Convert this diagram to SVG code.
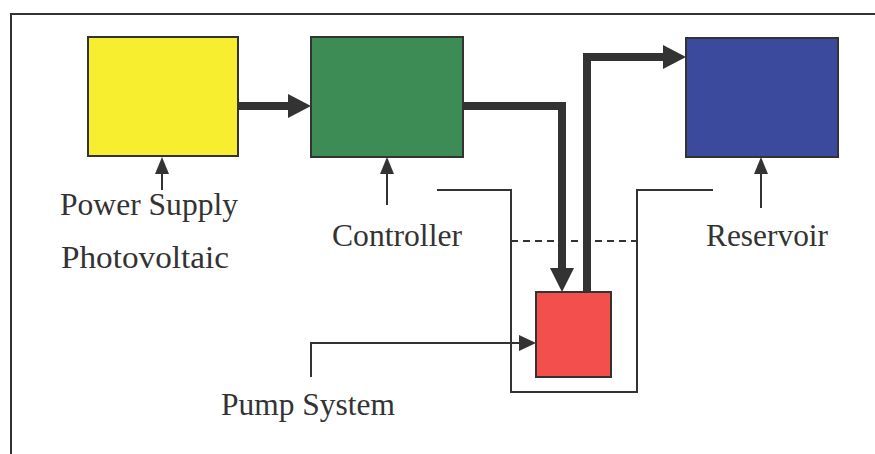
<svg xmlns="http://www.w3.org/2000/svg" width="875" height="454" viewBox="0 0 875 454">
<defs>
<style>
.box{stroke:#333;stroke-width:2}
.lbl{font-family:"Liberation Serif","Times New Roman",serif;font-size:32px;fill:#333}
.thick{fill:none;stroke:#333;stroke-width:8}
.thin{fill:none;stroke:#333;stroke-width:2}
.head{fill:#333}
</style>
</defs>
<rect width="875" height="454" fill="#fff"/>
<g id="frame">
<path class="thin" d="M11,454 V14 H875"/>
</g>
<g id="tank">
<path class="thin" d="M437,190 H511 V392 H637 V190 H713"/>
<path fill="none" stroke="#333" stroke-width="2" stroke-dasharray="7,5" d="M511,241 H636"/>
</g>
<g id="power-supply">
<rect class="box" x="88" y="37" width="150" height="119" fill="#f6ee2e"/>
<text class="lbl" x="60" y="215" textLength="178" lengthAdjust="spacingAndGlyphs">Power Supply</text>
<text class="lbl" x="61" y="268" textLength="168" lengthAdjust="spacingAndGlyphs">Photovoltaic</text>
</g>
<g id="controller">
<rect class="box" x="311" y="37" width="152" height="120" fill="#3d8b55"/>
<text class="lbl" x="332" y="246" textLength="130" lengthAdjust="spacingAndGlyphs">Controller</text>
</g>
<g id="reservoir">
<rect class="box" x="686" y="38" width="152" height="119" fill="#3b4a9c"/>
<text class="lbl" x="706" y="246" textLength="122" lengthAdjust="spacingAndGlyphs">Reservoir</text>
</g>
<g id="pump">
<rect class="box" x="536" y="292" width="75" height="85" fill="#f24f4d"/>
<text class="lbl" x="221" y="415" textLength="174" lengthAdjust="spacingAndGlyphs">Pump System</text>
</g>
<g id="connectors">
<path class="thick" d="M238,106 H290"/>
<polygon class="head" points="288,94 311,106 288,118"/>
<path class="thick" d="M463,106 H562 V270"/>
<polygon class="head" points="550,268 574,268 562,292"/>
<path class="thick" d="M587,292 V57 H665"/>
<polygon class="head" points="663,45 686,57 663,69"/>
<path class="thin" d="M162,190 V170"/>
<polygon class="head" points="155,174 169,174 162,157"/>
<path class="thin" d="M387,205 V170"/>
<polygon class="head" points="380,174 394,174 387,157"/>
<path class="thin" d="M761,208 V170"/>
<polygon class="head" points="754,174 768,174 761,157"/>
<path class="thin" d="M311,377 V343 H522"/>
<polygon class="head" points="519,335 536,343 519,351"/>
</g>
</svg>
